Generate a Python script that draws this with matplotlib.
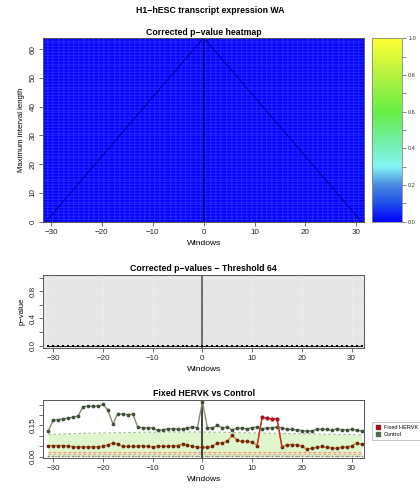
import numpy as np
import matplotlib.pyplot as plt
from matplotlib.colors import LinearSegmentedColormap

plt.rcParams['font.family'] = ['Liberation Sans', 'DejaVu Sans']

# heatmap: windows x maximum interval length, all corrected p-values ~0
heat_windows = list(range(-31, 32))
interval_lengths = list(range(1, 65))
heat_pvals = np.zeros((len(interval_lengths), len(heat_windows)))
# dark outline of the triangle seen on the heatmap
tri_x = [-31, 0, 31]
tri_y = [0, 64, 0]

# lower panels
windows = list(range(-31, 33))
pvals_thr64 = [0.0] * 64

fixed_hervk = [0.053, 0.053, 0.053, 0.053, 0.052, 0.047, 0.047, 0.047, 0.047, 0.048,
               0.048, 0.050, 0.057, 0.066, 0.060, 0.049, 0.049, 0.049, 0.049, 0.053,
               0.050, 0.047, 0.050, 0.050, 0.050, 0.051, 0.053, 0.060, 0.057, 0.050,
               0.047, 0.044, 0.045, 0.050, 0.066, 0.066, 0.074, 0.102, 0.079, 0.074,
               0.073, 0.070, 0.053, 0.188, 0.186, 0.180, 0.183, 0.047, 0.057, 0.058,
               0.057, 0.049, 0.037, 0.040, 0.045, 0.049, 0.045, 0.042, 0.040, 0.045,
               0.047, 0.050, 0.065, 0.060]
control = [0.123, 0.176, 0.178, 0.181, 0.186, 0.189, 0.196, 0.240, 0.243, 0.243,
           0.241, 0.251, 0.223, 0.157, 0.207, 0.204, 0.202, 0.204, 0.142, 0.139,
           0.138, 0.138, 0.126, 0.129, 0.134, 0.134, 0.134, 0.131, 0.139, 0.141,
           0.139, 0.264, 0.139, 0.138, 0.150, 0.139, 0.141, 0.128, 0.138, 0.136,
           0.134, 0.139, 0.142, 0.134, 0.138, 0.139, 0.142, 0.139, 0.131, 0.131,
           0.129, 0.125, 0.123, 0.123, 0.131, 0.131, 0.131, 0.126, 0.134, 0.129,
           0.129, 0.131, 0.128, 0.123]
control_hi = [0.107, 0.108, 0.108, 0.109, 0.110, 0.110,
              0.111, 0.112, 0.112, 0.113, 0.113, 0.114, 0.114, 0.115, 0.115, 0.116,
              0.116, 0.116, 0.117, 0.117, 0.117, 0.117, 0.118, 0.118, 0.118, 0.118,
              0.118, 0.118, 0.118, 0.118, 0.118, 0.118, 0.118, 0.117, 0.117, 0.117,
              0.116, 0.116, 0.115, 0.115, 0.114, 0.114, 0.114, 0.113, 0.113, 0.112,
              0.112, 0.112, 0.111, 0.111, 0.110, 0.110, 0.110, 0.109, 0.109, 0.108,
              0.108, 0.108, 0.107, 0.107, 0.106, 0.106, 0.105, 0.105]
control_lo = [0.003] * 64
hervk_hi = [0.022] * 64
hervk_lo = [0.012] * 64
signif = [12, 13, 14, 15]  # windows where fixed HERVK is significant

box_col = '#555555'
fig = plt.figure(figsize=(4.2, 4.94), dpi=100)
fig.text(0.5, 0.979, 'H1\u2212hESC transcript expression WA', ha='center', va='center',
         fontsize=6.3, fontweight='bold')

def style(ax):
    for s in ax.spines.values():
        s.set_color(box_col)
        s.set_linewidth(0.7)
    ax.tick_params(labelsize=5.8, length=3, width=0.6, color=box_col, pad=2,
                   labelcolor='#222222')

# ---- heatmap
cmap = LinearSegmentedColormap.from_list('pv', [
    (0.0, '#0000FF'), (0.1, '#2050E8'), (0.2, '#4A8AE0'), (0.3, '#80F4F4'),
    (0.45, '#70F0A0'), (0.6, '#66EE44'), (0.8, '#B4F240'), (1.0, '#FFFF33')])
ax1 = fig.add_axes([43.3 / 420, 1 - 221.7 / 494, 320.7 / 420, 184 / 494])
xe = np.append(np.array(heat_windows) - 0.5, heat_windows[-1] + 0.5)
ye = np.append(np.array(interval_lengths) - 1, interval_lengths[-1])
mesh = ax1.pcolormesh(xe, ye, heat_pvals, cmap=cmap, vmin=0, vmax=1,
                      edgecolors=(1, 1, 1, 0.06), linewidth=0.3)
ax1.plot(tri_x, tri_y, color='#0000A8', lw=0.8)
ax1.axvline(0, color='#00007A', lw=1.1)
ax1.set_xlim(-31.5, 31.5)
ax1.set_ylim(0, 64)
ax1.set_xticks(range(-30, 31, 10))
ax1.set_yticks(range(0, 61, 10))
for lab in ax1.get_yticklabels():
    lab.set_rotation(90)
    lab.set_va('center')
style(ax1)
ax1.set_title('Corrected p\u2212value heatmap', fontsize=6.3, fontweight='bold', pad=2)
ax1.set_xlabel('Windows', fontsize=6, labelpad=3)
ax1.set_ylabel('Maximum interval length', fontsize=5.6, labelpad=3)

cax = fig.add_axes([372 / 420, 1 - 221.7 / 494, 30 / 420, 183.4 / 494])
cb = fig.colorbar(mesh, cax=cax, ticks=np.arange(0, 1.01, 0.2))
cb.set_ticks(np.arange(0.1, 1.0, 0.2), minor=True)
cb.ax.set_yticklabels(['0.0', '0.2', '0.4', '0.6', '0.8', '1.0'])
cb.outline.set_edgecolor('#888888')
cb.outline.set_linewidth(0.6)
cb.ax.tick_params(which='major', labelsize=4, length=3, width=0.5, color=box_col, pad=1.5,
                  labelcolor='#333333')
cb.ax.tick_params(which='minor', length=3, width=0.5, color=box_col)

# ---- p-values threshold 64
ax2 = fig.add_axes([43.3 / 420, 1 - 348.3 / 494, 320.7 / 420, 73.3 / 494])
ax2.set_facecolor('#E6E6E6')
ax2.grid(True, color='#EFEFEF', lw=0.4)
ax2.set_axisbelow(True)
ax2.axvline(0, color='#555555', lw=1.2)
ax2.plot(windows, pvals_thr64, color='black', lw=0.6, marker='s', ms=1.6, mew=0)
ax2.set_xlim(-32, 32.5)
ax2.set_ylim(-0.04, 1.04)
ax2.set_xticks(range(-30, 31, 10))
ax2.set_yticks(np.arange(0, 1.01, 0.2))
ax2.set_yticklabels(['0.0', '', '0.4', '', '0.8', ''])
for lab in ax2.get_yticklabels():
    lab.set_rotation(90)
    lab.set_va('center')
style(ax2)
ax2.set_title('Corrected p\u2212values \u2212 Threshold 64', fontsize=6.3, fontweight='bold', pad=3)
ax2.set_xlabel('Windows', fontsize=6, labelpad=3)
ax2.set_ylabel('p\u2212value', fontsize=5.6, labelpad=3)

# ---- Fixed HERVK vs Control
ax3 = fig.add_axes([43.3 / 420, 1 - 458.3 / 494, 320.7 / 420, 58.3 / 494])
ax3.fill_between(windows, control_lo, control_hi, color='#DFF6CC', lw=0)
ax3.fill_between(windows, hervk_lo, hervk_hi, color='#F6E0C0', lw=0)
ax3.plot(windows, control_hi, color='#A8B89A', lw=0.8, ls=(0, (2.5, 2)))
ax3.plot(windows, control_lo, color='#8A9A80', lw=0.8, ls=(0, (1.5, 1.5)),
         marker='s', ms=1.2, mew=0)
ax3.plot(windows, hervk_hi, color='#E0A070', lw=0.8, ls=(0, (2.5, 2)))
ax3.plot(windows, hervk_lo, color='#D8B090', lw=0.8, ls=(0, (2.5, 2)))
ax3.axvline(0, color='#444444', lw=1.4)
ax3.plot(windows, control, color='#7E8E6C', lw=1.0, marker='o', ms=1.7,
         mfc='#3F5038', mec='#3F5038')
ax3.plot(windows, fixed_hervk, color='#E5822E', lw=1.0, marker='o', ms=1.7,
         mfc='#6A2810', mec='#6A2810')
i0 = windows.index(signif[0]) - 1
i1 = windows.index(signif[-1]) + 2
ax3.plot(windows[i0:i1], fixed_hervk[i0:i1], color='#C8302A', lw=1.0)
sig_y = [fixed_hervk[windows.index(w)] for w in signif]
ax3.plot(signif, sig_y, ls='none', marker='o', ms=1.8, mfc='#B01020', mec='#B01020')
ax3.set_xlim(-32, 32.5)
ax3.set_ylim(-0.008, 0.272)
ax3.set_xticks(range(-30, 31, 10))
ax3.set_yticks(np.arange(0, 0.26, 0.05))
ax3.set_yticklabels(['0.00', '', '', '0.15', '', ''])
for lab in ax3.get_yticklabels():
    lab.set_rotation(90)
    lab.set_va('center')
style(ax3)
ax3.set_title('Fixed HERVK vs Control', fontsize=6.3, fontweight='bold', pad=3)
ax3.set_xlabel('Windows', fontsize=6, labelpad=3)

h1 = plt.Line2D([], [], ls='none', marker='s', ms=3.5, mfc='#A0101E', mec='#A0101E')
h2 = plt.Line2D([], [], ls='none', marker='s', ms=3.5, mfc='#4C6A4C', mec='#4C6A4C')
leg = fig.legend([h1, h2], ['Fixed HERVK', 'Control'], loc='upper left',
                 bbox_to_anchor=(369 / 420, 1 - 419 / 494), fontsize=4,
                 frameon=True, fancybox=False, borderpad=0.6, handlelength=1,
                 handletextpad=0.6, labelspacing=0.3)
leg.get_frame().set_edgecolor('#999999')
leg.get_frame().set_linewidth(0.5)

fig.savefig('out.png', dpi=100)
